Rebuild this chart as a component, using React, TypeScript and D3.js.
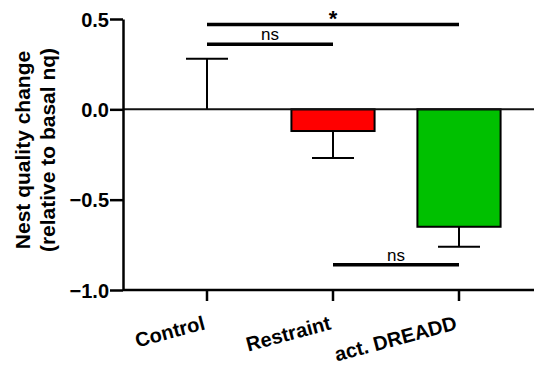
import React, { useEffect, useRef } from "react";
import * as d3 from "d3";

// group names and values
const groups = ["Control", "Restraint", "act. DREADD"];
const means = [0, -0.12, -0.65];
const errors = [0.28, 0.15, 0.11];
const fills = ["#ffffff", "#ff0000", "#00c000"];
const yTicks = [0.5, 0, -0.5, -1.0];

// significance bars: from group, to group, level, label
const sigFrom = ["Control", "Control", "Restraint"];
const sigTo = ["act. DREADD", "Restraint", "act. DREADD"];
const sigLevel = [0.47, 0.36, -0.86];
const sigLabel = ["*", "ns", "ns"];

const App: React.FC = () => {
  const svgRef = useRef<SVGSVGElement | null>(null);

  useEffect(() => {
    const width = 534;
    const height = 372;
    const axisX = 123;
    const font = "'Liberation Sans', Arial, sans-serif";

    const svg = d3
      .select(svgRef.current)
      .attr("width", width)
      .attr("height", height)
      .style("position", "absolute")
      .style("left", 0)
      .style("top", 0)
      .style("background", "#fff");
    svg.selectAll("*").remove();

    const y = d3.scaleLinear().domain([-1, 0.5]).range([290, 19]);
    const x = d3
      .scaleBand()
      .domain(groups)
      .range([144, 522])
      .paddingInner(0.34)
      .paddingOuter(0.17);
    const cx = (g: string) => (x(g) as number) + x.bandwidth() / 2;

    // bars
    svg
      .selectAll(".bar")
      .data(groups)
      .enter()
      .append("rect")
      .attr("class", "bar")
      .attr("x", (g) => x(g) as number)
      .attr("width", x.bandwidth())
      .attr("y", (_, i) => Math.min(y(means[i]), y(0)))
      .attr("height", (_, i) => Math.abs(y(means[i]) - y(0)))
      .attr("fill", (_, i) => fills[i])
      .attr("stroke", "#000")
      .attr("stroke-width", 2);

    // error bars (one-sided, away from zero)
    const capHalf = 21;
    groups.forEach((g, i) => {
      const dir = means[i] < 0 ? -1 : 1;
      const end = means[i] + dir * errors[i];
      const c = cx(g);
      svg
        .append("line")
        .attr("x1", c)
        .attr("x2", c)
        .attr("y1", y(means[i]))
        .attr("y2", y(end))
        .attr("stroke", "#000")
        .attr("stroke-width", 2);
      svg
        .append("line")
        .attr("x1", c - capHalf)
        .attr("x2", c + capHalf)
        .attr("y1", y(end))
        .attr("y2", y(end))
        .attr("stroke", "#000")
        .attr("stroke-width", 2);
    });

    // zero line
    svg
      .append("line")
      .attr("x1", axisX)
      .attr("x2", width)
      .attr("y1", y(0))
      .attr("y2", y(0))
      .attr("stroke", "#111")
      .attr("stroke-width", 2);

    // y axis
    const gy = svg
      .append("g")
      .attr("transform", `translate(${axisX},0)`)
      .call(
        d3
          .axisLeft(y)
          .tickValues(yTicks)
          .tickFormat(d3.format(".1f"))
          .tickSize(13)
          .tickSizeOuter(0),
      );
    gy.select(".domain").attr("stroke", "#000").attr("stroke-width", 2.5);
    gy.selectAll(".tick line").attr("stroke", "#000").attr("stroke-width", 2.5);
    gy.selectAll(".tick text")
      .attr("x", -14)
      .attr("dy", "0.36em")
      .style("font-family", font)
      .style("font-weight", "bold")
      .style("font-size", "20px")
      .attr("fill", "#000");

    // x axis
    const gx = svg
      .append("g")
      .attr("transform", `translate(0,${y(-1)})`)
      .call(d3.axisBottom(x).tickSize(11).tickSizeOuter(0));
    gx.select(".domain")
      .attr("d", `M${axisX},0H${width}`)
      .attr("stroke", "#000")
      .attr("stroke-width", 2.5);
    gx.selectAll(".tick line").attr("stroke", "#000").attr("stroke-width", 2.5);
    gx.selectAll(".tick text")
      .attr("y", 0)
      .attr("dy", 0)
      .attr("text-anchor", "end")
      .attr("transform", "translate(-1,39) rotate(-15)")
      .style("font-family", font)
      .style("font-weight", "bold")
      .style("font-size", "20px")
      .attr("fill", "#000");

    // y axis title
    const title = svg
      .append("text")
      .attr("transform", `translate(0,150) rotate(-90)`)
      .attr("text-anchor", "middle")
      .style("font-family", font)
      .style("font-weight", "bold")
      .style("font-size", "21px")
      .attr("fill", "#000");
    title.append("tspan").attr("x", 0).attr("y", 30).text("Nest quality change");
    title.append("tspan").attr("x", 0).attr("y", 55).text("(relative to basal nq)");

    // significance brackets
    sigFrom.forEach((a, i) => {
      const x1 = cx(a);
      const x2 = cx(sigTo[i]);
      const yy = y(sigLevel[i]);
      svg
        .append("line")
        .attr("x1", x1)
        .attr("x2", x2)
        .attr("y1", yy)
        .attr("y2", yy)
        .attr("stroke", "#000")
        .attr("stroke-width", 3.5);
      svg
        .append("text")
        .attr("x", (x1 + x2) / 2)
        .attr("y", sigLabel[i] === "*" ? yy + 2 : yy - 4)
        .attr("text-anchor", "middle")
        .style("font-family", font)
        .style("font-size", sigLabel[i] === "*" ? "22px" : "17px")
        .style("font-weight", sigLabel[i] === "*" ? "bold" : "normal")
        .attr("fill", "#000")
        .text(sigLabel[i]);
    });
  }, []);

  return <svg ref={svgRef}></svg>;
};

export default App;
